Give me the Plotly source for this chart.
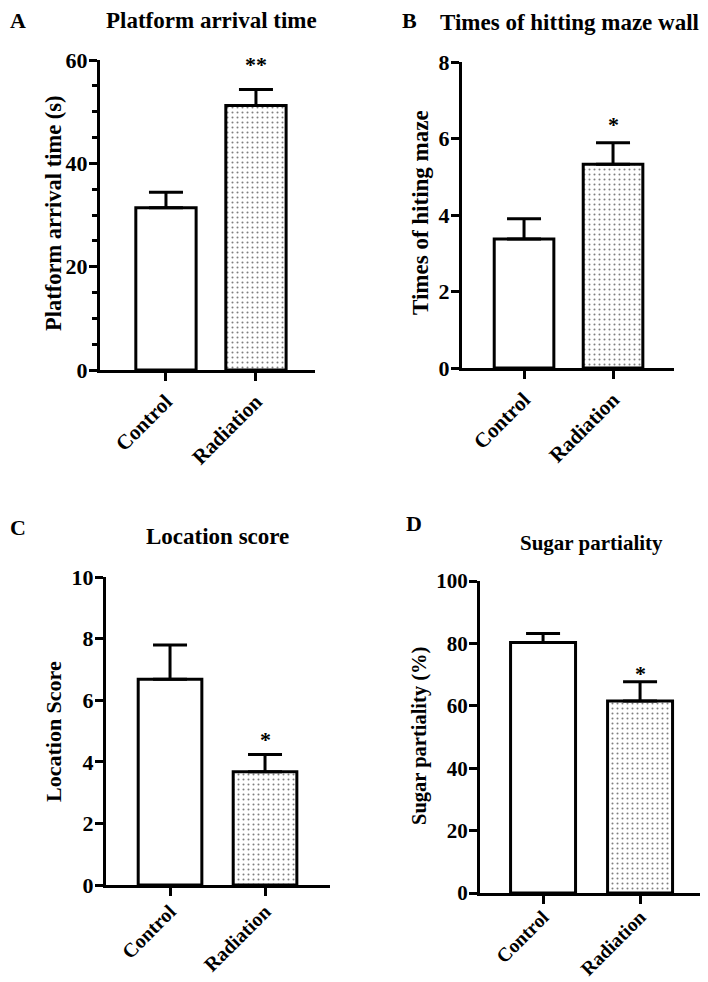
import plotly.graph_objects as go

# page body has an 8px margin, so the figure is drawn 8px in from the corner
OFF = 8
W, H = 708 - OFF, 982 - OFF

GROUPS = ["Control", "Radiation"]

arrival_mean = [31.4, 51.2]
arrival_sem = [3.0, 3.1]
wall_mean = [3.37, 5.33]
wall_sem = [0.53, 0.56]
location_mean = [6.68, 3.68]
location_sem = [1.11, 0.56]
sugar_mean = [80.3, 61.5]
sugar_sem = [2.9, 6.2]

panel_letters = ["A", "B", "C", "D"]
panel_titles = ["Platform arrival time", "Times of hitting maze wall",
                "Location score", "Sugar partiality"]
y_titles = ["Platform arrival time (s)", "Times of hiting maze",
            "Location Score", "Sugar partiality (%)"]
y_max = [60, 8, 10, 100]
y_dtick = [20, 2, 2, 20]
stars = [["", "**"], ["", "*"], ["", "*"], ["", "*"]]

means = [arrival_mean, wall_mean, location_mean, sugar_mean]
sems = [arrival_sem, wall_sem, location_sem, sugar_sem]

# plot rectangles in page pixels: left, right, top, bottom
boxes = [(100, 315, 60, 370), (462, 674, 62, 368),
         (106, 330, 577, 885), (480, 707, 581, 893)]
x_ranges = [[-0.733, 1.656], [-0.697, 1.685], [-0.674, 1.684], [-0.65, 1.69]]

# text positions in page pixels (x, y, font size)
title_pos = [(211, 21, 23), (569, 22, 23), (217, 536, 23), (591, 543, 21)]
letter_pos = [(18, 21), (409, 21), (18, 527), (414, 523)]
ytitle_pos = [(54, 213, 22.5), (421, 213, 23), (53, 731, 22), (419, 736, 20.5)]
ytick_size = [22, 22, 22, 21]
xtick_size = [21, 21, 20, 19.5]
xtick_standoff = [0, 0, -4, -6]
star_shift = [10, 4, 0, -6]

FONT = "Liberation Serif, Times New Roman, serif"


def px(x, y):
    return (x - OFF) / W, 1 - (y - OFF) / H


fig = go.Figure()
annotations = []

for i in range(4):
    n = "" if i == 0 else str(i + 1)
    left, right, top, bottom = boxes[i]
    fig.add_trace(go.Bar(
        x=GROUPS, y=means[i], width=0.67,
        marker=dict(
            color="white",
            line=dict(color="black", width=3),
            pattern=dict(shape=["", "."], fgcolor="black", bgcolor="white",
                         size=5, solidity=0.13),
        ),
        error_y=dict(type="data", array=sems[i], arrayminus=[0, 0],
                     symmetric=False, color="black", thickness=3, width=17),
        xaxis="x" + n, yaxis="y" + n, showlegend=False,
    ))

    x0, _ = px(left, 0)
    x1, _ = px(right, 0)
    _, y0 = px(0, bottom)
    _, y1 = px(0, top)

    xax = dict(
        domain=[x0, min(x1, 1)], range=x_ranges[i], anchor="y" + n, automargin=False,
        showline=True, linecolor="black", linewidth=3,
        ticks="outside", ticklen=8, tickwidth=3, tickcolor="black",
        tickangle=-45, showgrid=False, zeroline=False,
        ticklabelstandoff=xtick_standoff[i],
        tickfont=dict(family=FONT, size=xtick_size[i], color="black", weight="bold"),
    )
    yax = dict(
        domain=[y0, y1], range=[0, y_max[i]], dtick=y_dtick[i], anchor="x" + n,
        automargin=False, ticklabelstandoff=-3,
        showline=True, linecolor="black", linewidth=3,
        ticks="outside", ticklen=8, tickwidth=3, tickcolor="black",
        showgrid=False, zeroline=False,
        tickfont=dict(family=FONT, size=ytick_size[i], color="black", weight="bold"),
    )
    if i == 0:
        yax["minor"] = dict(dtick=5, ticks="outside", ticklen=5, tickwidth=2.5,
                            tickcolor="black", showgrid=False)
    fig.update_layout(**{"xaxis" + n: xax, "yaxis" + n: yax})

    # significance stars
    for j, g in enumerate(GROUPS):
        if stars[i][j]:
            annotations.append(dict(
                x=g, y=means[i][j] + sems[i][j], xref="x" + n, yref="y" + n,
                text="<b>" + stars[i][j] + "</b>", showarrow=False,
                yanchor="bottom", yshift=star_shift[i],
                font=dict(family=FONT, size=22, color="black"),
            ))

    tx, ty = px(title_pos[i][0], title_pos[i][1])
    annotations.append(dict(
        x=tx, y=ty, xref="paper", yref="paper", text="<b>" + panel_titles[i] + "</b>",
        showarrow=False, xanchor="center", yanchor="middle",
        font=dict(family=FONT, size=title_pos[i][2], color="black"),
    ))
    lx, ly = px(*letter_pos[i])
    annotations.append(dict(
        x=lx, y=ly, xref="paper", yref="paper", text="<b>" + panel_letters[i] + "</b>",
        showarrow=False, xanchor="center", yanchor="middle",
        font=dict(family=FONT, size=22, color="black"),
    ))
    ax_, ay_ = px(ytitle_pos[i][0], ytitle_pos[i][1])
    annotations.append(dict(
        x=ax_, y=ay_, xref="paper", yref="paper", text="<b>" + y_titles[i] + "</b>",
        showarrow=False, xanchor="center", yanchor="middle", textangle=-90,
        font=dict(family=FONT, size=ytitle_pos[i][2], color="black"),
    ))

fig.update_layout(
    width=W, height=H,
    margin=dict(l=0, r=0, t=0, b=0, autoexpand=False),
    paper_bgcolor="white", plot_bgcolor="white",
    annotations=annotations,
)

fig.write_html("out.html")
